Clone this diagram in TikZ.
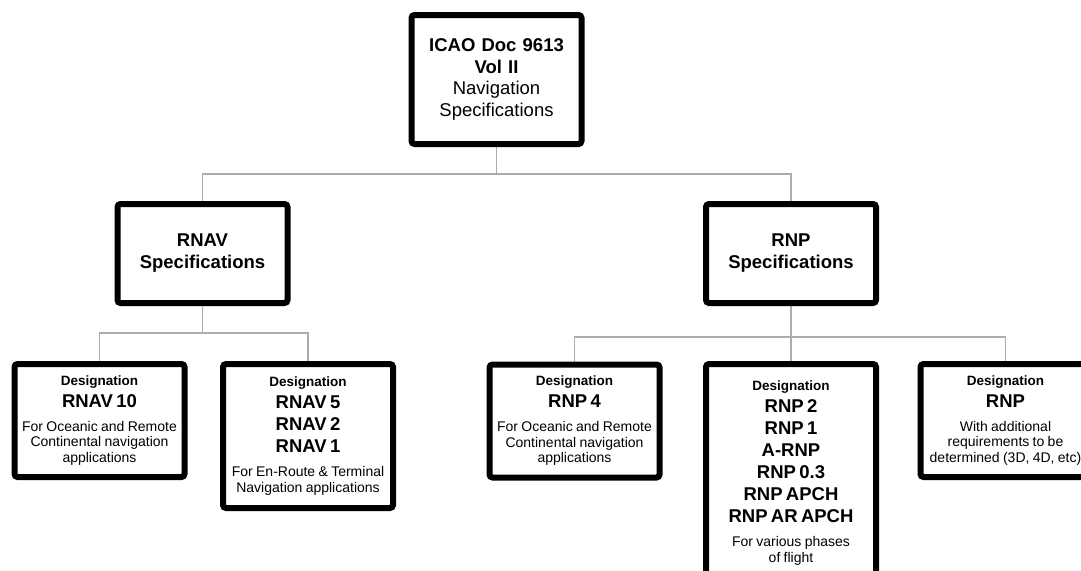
\documentclass[tikz,border=0pt]{standalone}
\usepackage{fontspec}
\setmainfont{Liberation Sans}
\usetikzlibrary{backgrounds}

\newcommand{\desig}{{\fontsize{13.5}{15}\selectfont\bfseries Designation\par}}
\newcommand{\codes}[1]{{\fontsize{18.5}{22}\selectfont\bfseries #1\par}}
\newcommand{\notes}[1]{{\fontsize{14}{15.5}\selectfont\vspace{8.5pt}#1\par}}

\tikzset{
    box/.style={draw, line width=6pt, rounded corners=3pt, fill=white, align=center,
        text width=166pt, inner sep=0pt, minimum width=170pt},
    link/.style={draw=gray!65, line width=1.5pt}
}

\begin{document}
\begin{tikzpicture}[x=1pt, y=-1pt]
    \useasboundingbox (0,0) rectangle (1081,570);
    \clip (0,0) rectangle (1081,570);

    % Documento ICAO
    \node[box, minimum height=129pt, font=\fontsize{18.5}{21.5}\selectfont] (icao) at (496.5,79.5)
        {\textbf{ICAO Doc 9613}\\\textbf{Vol II}\\Navigation\\Specifications};

    % Specifiche RNAV e RNP
    \node[box, minimum height=99pt, font=\fontsize{18.5}{22}\selectfont\bfseries] (rnav) at (202.5,253.5)
        {RNAV\\Specifications};
    \node[box, minimum height=99pt, font=\fontsize{18.5}{22}\selectfont\bfseries] (rnp) at (791,253.5)
        {RNP\\Specifications};

    % Designazioni RNAV
    \node[box, minimum height=113pt] (rnavten) at (99.5,420.5)
        {\desig\codes{RNAV 10}\notes{For Oceanic and Remote\\Continental navigation\\applications}};
    \node[box, minimum height=144pt] (rnavfive) at (308,436)
        {\desig\codes{RNAV 5\\RNAV 2\\RNAV 1}\notes{For En-Route \& Terminal\\Navigation applications}};

    % Designazioni RNP
    \node[box, minimum height=113pt] (rnpfour) at (574.5,421)
        {\desig\codes{RNP 4}\notes{For Oceanic and Remote\\Continental navigation\\applications}};
    \node[box, minimum height=218pt] (rnpmulti) at (791,473)
        {\desig\codes{RNP 2\\RNP 1\\A-RNP\\RNP 0.3\\RNP APCH\\RNP AR APCH}\notes{For various phases\\of flight}};
    \node[box, minimum height=113pt] (rnpplus) at (1005.5,420.5)
        {\desig\codes{RNP}\notes{With additional\\requirements to be\\determined (3D, 4D, etc)}};

    % Collegamenti
    \coordinate (topjoin) at (498,174);
    \coordinate (rnavjoin) at (203,333);
    \coordinate (rnpjoin) at (791,337);
    \begin{scope}[on background layer]
        \fill[white] (0,0) rectangle (1081,570);
        \draw[link] (icao.south) -- (icao.south |- topjoin);
        \draw[link] (rnav.north) |- (icao.south |- topjoin) -| (rnp.north);
        \draw[link] (rnav.south) -- (rnav.south |- rnavjoin);
        \draw[link] (rnavten.north) |- (rnav.south |- rnavjoin) -| (rnavfive.north);
        \draw[link] (rnp.south) -- (rnpmulti.north);
        \draw[link] (rnpfour.north) |- (rnpjoin) -| (rnpplus.north);
    \end{scope}
\end{tikzpicture}
\end{document}
